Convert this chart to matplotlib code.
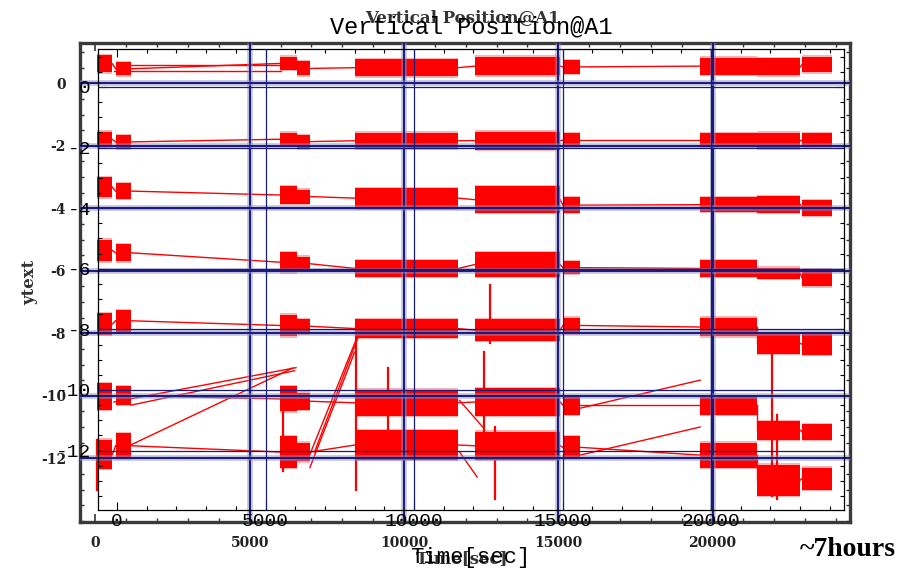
import matplotlib
matplotlib.use("Agg")
import matplotlib.pyplot as plt
from matplotlib.ticker import MultipleLocator

plt.rcParams["axes.unicode_minus"] = False

# time blocks (sec) shared by all channels
block_start = [50, 650, 5980, 6530, 8410, 12300, 15150, 19600, 21440, 22900]
block_end = [550, 1150, 6530, 6950, 11750, 15060, 15700, 21440, 22840, 23870]

# vertical band of each channel in each block (low, high)
ch0_low = [0.35, 0.25, 0.42, 0.25, 0.22, 0.25, 0.30, 0.28, 0.25, 0.35]
ch0_high = [0.90, 0.68, 0.85, 0.70, 0.78, 0.85, 0.75, 0.82, 0.80, 0.85]
ch1_low = [-2.05, -2.10, -2.00, -2.08, -2.10, -2.12, -2.05, -2.05, -2.10, -2.05]
ch1_high = [-1.55, -1.65, -1.58, -1.65, -1.58, -1.55, -1.60, -1.60, -1.58, -1.60]
ch2_low = [-3.65, -3.70, -3.85, -3.85, -4.00, -4.15, -4.15, -4.12, -4.15, -4.25]
ch2_high = [-3.00, -3.20, -3.30, -3.40, -3.35, -3.30, -3.65, -3.65, -3.60, -3.75]
ch3_low = [-5.70, -5.70, -6.05, -6.00, -6.20, -6.20, -6.10, -6.20, -6.25, -6.50]
ch3_high = [-5.00, -5.15, -5.40, -5.55, -5.65, -5.40, -5.70, -5.65, -5.90, -5.95]
ch4_low = [-8.05, -7.95, -8.10, -8.00, -8.15, -8.25, -8.00, -8.10, -8.65, -8.70]
ch4_high = [-7.35, -7.25, -7.40, -7.55, -7.55, -7.55, -7.50, -7.50, -8.00, -8.00]
ch5_low = [-10.45, -10.30, -10.50, -10.45, -10.65, -10.65, -10.60, -10.60, -11.40, -11.40]
ch5_high = [-9.60, -9.70, -9.70, -9.90, -9.80, -9.75, -10.00, -10.00, -10.80, -10.90]
ch6_low = [-12.35, -12.00, -12.30, -12.10, -12.05, -12.05, -12.00, -12.30, -13.20, -13.00]
ch6_high = [-11.40, -11.20, -11.30, -11.50, -11.10, -11.15, -11.30, -11.50, -12.20, -12.30]

# isolated spikes (time, low, high)
spike_t = [60, 6080, 8440, 9480, 12600, 12790, 12950, 21930, 22100]
spike_low = [-13.0, -12.4, -13.0, -11.3, -11.8, -8.3, -13.3, -13.2, -13.3]
spike_high = [-11.4, -10.0, -7.75, -9.1, -8.6, -6.45, -11.0, -8.4, -10.6]

# long joining lines between sessions (t0, y0) -> (t1, y1)
link_t0 = [600, 1150, 790, 6900, 7100, 6950, 11800, 11800, 15700, 15700, 1150, 600]
link_y0 = [-10.2, -10.3, -11.74, -12.0, -11.8, -12.3, -10.15, -11.8, -10.4, -11.9, 0.58, 0.39]
link_t1 = [6500, 6450, 6400, 8450, 8600, 8400, 12550, 12370, 19600, 19600, 6000, 6000]
link_y1 = [-9.1, -9.2, -9.11, -8.2, -7.9, -8.6, -11.0, -12.6, -9.5, -11.0, 0.58, 0.39]

x_ticks = [0, 5000, 10000, 15000, 20000]
x_grid = [5000, 10000, 15000, 20000]
y_ticks = [0, -2, -4, -6, -8, -10, -12]


def draw_channel(ax, low, high):
    mids = [(lo + hi) / 2 for lo, hi in zip(low, high)]
    for i in range(len(block_start) - 1):
        ax.plot([block_end[i], block_start[i + 1]], [mids[i], mids[i + 1]],
                color="red", lw=1.0, zorder=2)
    for t0, t1, lo, hi in zip(block_start, block_end, low, high):
        ax.fill_between([t0, t1], [lo - 0.04] * 2, [hi + 0.04] * 2,
                        color="#ff6666", alpha=0.5, lw=0, zorder=2)
        ax.fill_between([t0, t1], [lo, lo], [hi, hi], color="red", lw=0, zorder=2)


def style_axes(ax, x_lim, y_lim):
    ax.set_xlim(*x_lim)
    ax.set_ylim(*y_lim)
    ax.set_xticks(x_ticks)
    ax.set_yticks(y_ticks)
    ax.xaxis.set_minor_locator(MultipleLocator(1000))
    ax.yaxis.set_minor_locator(MultipleLocator(0.5))
    ax.tick_params(which="both", direction="in", top=True, right=True,
                   labeltop=False, labelright=False)


fig = plt.figure(figsize=(9.15, 5.71), dpi=100)
W, H = 915, 571

# outer plot
ax_out = fig.add_axes([80 / W, 1 - 522 / H, 770 / W, 479 / H])
style_axes(ax_out, (-502, 24456), (-14.04, 1.29))
ax_out.tick_params(which="major", length=6, width=1.2, color="#333333", pad=10)
ax_out.tick_params(which="minor", length=3, width=1.0, color="#333333")
for lab in ax_out.get_xticklabels() + ax_out.get_yticklabels():
    lab.set_fontfamily("DejaVu Serif")
    lab.set_fontweight("bold")
    lab.set_fontsize(10)
    lab.set_color("#222222")
for sp in ax_out.spines.values():
    sp.set_linewidth(2.4)
    sp.set_color("#3a3a3a")

for low, high in [(ch0_low, ch0_high), (ch1_low, ch1_high), (ch2_low, ch2_high),
                  (ch3_low, ch3_high), (ch4_low, ch4_high), (ch5_low, ch5_high),
                  (ch6_low, ch6_high)]:
    draw_channel(ax_out, low, high)
for t, lo, hi in zip(spike_t, spike_low, spike_high):
    ax_out.plot([t, t], [lo, hi], color="red", lw=1.6, zorder=2)
for t0, y0, t1, y1 in zip(link_t0, link_y0, link_t1, link_y1):
    ax_out.plot([t0, t1], [y0, y1], color="red", lw=1.0, zorder=2)

for xv in x_grid:
    ax_out.axvline(xv, color="#8c8cc8", lw=4, alpha=0.55, zorder=3)
    ax_out.axvline(xv, color="#1a1a78", lw=1.4, zorder=3)
for yv in y_ticks:
    ax_out.axhline(yv, color="#8c8cc8", lw=4, alpha=0.55, zorder=3)
    ax_out.axhline(yv, color="#1a1a78", lw=1.4, zorder=3)

# inner plot, drawn over the outer one
ax_in = fig.add_axes([98 / W, 1 - 510 / H, 746 / W, 461 / H])
ax_in.patch.set_alpha(0)
style_axes(ax_in, (-640, 24478), (-13.96, 1.25))
ax_in.tick_params(which="major", length=6, width=0.8, pad=2, labelsize=14)
ax_in.tick_params(which="minor", length=3, width=0.8)
ax_in.tick_params(axis="y", pad=5)
for lab in ax_in.get_xticklabels() + ax_in.get_yticklabels():
    lab.set_fontfamily("Liberation Mono")
for sp in ax_in.spines.values():
    sp.set_linewidth(0.9)
    sp.set_color("black")
for xv in x_grid:
    ax_in.axvline(xv, color="#1a1a78", lw=0.9, zorder=3)
for yv in y_ticks:
    ax_in.axhline(yv, color="#1a1a78", lw=0.9, zorder=3)

# titles and labels of both layers
fig.text(462 / W, 1 - 18 / H, "Vertical Position@A1", ha="center", va="center",
         fontsize=12, fontweight="bold", family="DejaVu Serif", color="#333333")
fig.text(471 / W, 1 - 27 / H, "Vertical Position@A1", ha="center", va="center",
         fontsize=17, family="Liberation Mono")
fig.text(462 / W, 1 - 559 / H, "Time[sec]", ha="center", va="center",
         fontsize=12, fontweight="bold", family="DejaVu Serif", color="#333333")
fig.text(470 / W, 1 - 557 / H, "Time[sec]", ha="center", va="center",
         fontsize=16, family="Liberation Mono")
fig.text(30 / W, 1 - 282 / H, "ytext", ha="center", va="center", rotation=90,
         fontsize=12, fontweight="bold", family="DejaVu Serif", color="#333333")
fig.text(848 / W, 1 - 550 / H, "~7hours", ha="center", va="center",
         fontsize=20, fontweight="bold", family="Liberation Serif")

fig.savefig("out.png", dpi=100)
